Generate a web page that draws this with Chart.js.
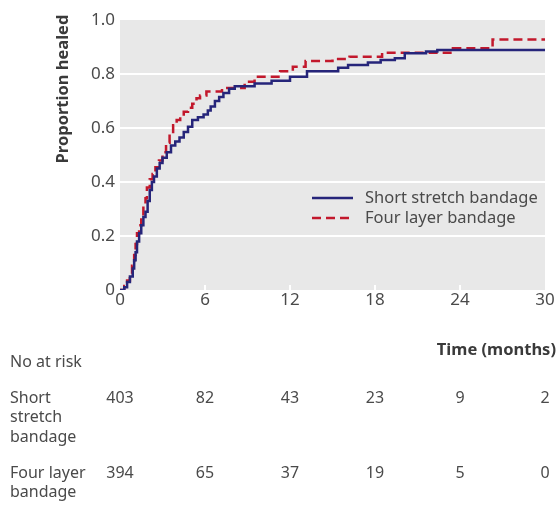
<!DOCTYPE html>
<html>
<head>
<meta charset="utf-8" />
<title>Proportion healed</title>
<script src="https://cdn.jsdelivr.net/npm/chart.js@4/dist/chart.umd.min.js"></script>
<style>
  html, body { margin: 0; padding: 0; background: #fff; }
  #wrap { width: 556px; height: 517px; }
</style>
</head>
<body>
<div id="wrap"><canvas id="km"></canvas></div>
<script>
// time (months) and proportion healed
const shortTimes = [0, 0.3, 0.5, 0.7, 0.9, 1.0, 1.1, 1.2, 1.35, 1.5, 1.65, 1.8, 1.95, 2.1, 2.25, 2.4, 2.6, 2.8, 3.0, 3.3, 3.6, 3.9, 4.2, 4.5, 4.8, 5.1, 5.5, 5.9, 6.2, 6.4, 6.7, 7.0, 7.3, 7.7, 8.1, 9.5, 10.7, 12.0, 13.2, 15.4, 16.1, 17.5, 18.4, 19.4, 20.1, 21.6, 22.4, 30];
const shortHealed = [0, 0.01, 0.03, 0.05, 0.08, 0.11, 0.14, 0.18, 0.21, 0.24, 0.27, 0.29, 0.33, 0.37, 0.40, 0.42, 0.45, 0.47, 0.49, 0.51, 0.535, 0.55, 0.565, 0.585, 0.605, 0.63, 0.64, 0.65, 0.665, 0.68, 0.70, 0.715, 0.73, 0.745, 0.755, 0.765, 0.775, 0.79, 0.81, 0.823, 0.833, 0.843, 0.852, 0.858, 0.877, 0.883, 0.889, 0.889];

const fourTimes = [0, 0.3, 0.5, 0.7, 0.85, 1.0, 1.1, 1.2, 1.35, 1.5, 1.65, 1.8, 1.9, 2.1, 2.3, 2.5, 2.75, 3.0, 3.25, 3.5, 3.75, 4.0, 4.25, 4.5, 4.8, 5.1, 5.4, 5.65, 6.1, 7.2, 8.8, 9.5, 11.3, 12.2, 13.1, 15.0, 16.2, 18.5, 23.5, 26.3, 30];
const fourHealed = [0, 0.015, 0.035, 0.06, 0.09, 0.13, 0.17, 0.21, 0.24, 0.27, 0.31, 0.34, 0.38, 0.41, 0.43, 0.455, 0.48, 0.51, 0.545, 0.58, 0.61, 0.63, 0.645, 0.66, 0.675, 0.69, 0.71, 0.72, 0.735, 0.748, 0.771, 0.79, 0.81, 0.827, 0.848, 0.856, 0.864, 0.879, 0.895, 0.928, 0.928];

const timeTicks = [0, 6, 12, 18, 24, 30];
const atRiskShort = [403, 82, 43, 23, 9, 2];
const atRiskFour = [394, 65, 37, 19, 5, 0];

const seriesNames = ['Short stretch bandage', 'Four layer bandage'];
const riskLabels = [['Short', 'stretch', 'bandage'], ['Four layer', 'bandage']];

const blue = '#26257a';
const red = '#c2182c';
const textCol = '#4a4a4a';
const fontFam = '"Noto Sans", "Open Sans", sans-serif';

function toPoints(xs, ys) {
  return xs.map((x, i) => ({ x: x, y: ys[i] }));
}

// gray panel + inside ticks + extra text (legend, axis title, risk table)
const extras = {
  id: 'extras',
  beforeDraw(chart) {
    const a = chart.chartArea, ctx = chart.ctx;
    ctx.save();
    ctx.fillStyle = '#e8e8e8';
    ctx.fillRect(a.left, a.top, a.right - a.left, a.bottom - a.top);
    ctx.restore();
  },
  afterDraw(chart) {
    const a = chart.chartArea, ctx = chart.ctx;
    const xs = chart.scales.x;
    ctx.save();

    // small white ticks at bottom of panel
    ctx.strokeStyle = '#ffffff';
    ctx.lineWidth = 2;
    timeTicks.slice(1, -1).forEach(t => {
      const px = Math.round(xs.getPixelForValue(t));
      ctx.beginPath();
      ctx.moveTo(px, a.bottom);
      ctx.lineTo(px, a.bottom - 5);
      ctx.stroke();
    });

    // y axis title
    ctx.fillStyle = '#3a3a3a';
    ctx.font = 'bold 16.5px ' + fontFam;
    ctx.textAlign = 'center';
    ctx.textBaseline = 'middle';
    ctx.save();
    ctx.translate(63, 89);
    ctx.rotate(-Math.PI / 2);
    ctx.fillText('Proportion healed', 0, 0);
    ctx.restore();

    // legend
    ctx.lineWidth = 2.5;
    ctx.strokeStyle = blue;
    ctx.beginPath(); ctx.moveTo(312, 198); ctx.lineTo(353, 198); ctx.stroke();
    ctx.strokeStyle = red;
    ctx.setLineDash([9, 5]);
    ctx.beginPath(); ctx.moveTo(312, 218); ctx.lineTo(353, 218); ctx.stroke();
    ctx.setLineDash([]);
    ctx.fillStyle = textCol;
    ctx.font = '16.5px ' + fontFam;
    ctx.textAlign = 'left';
    ctx.fillText(seriesNames[0], 365, 198);
    ctx.fillText(seriesNames[1], 365, 218);

    // time title
    ctx.fillStyle = '#3a3a3a';
    ctx.font = 'bold 16.5px ' + fontFam;
    ctx.textAlign = 'right';
    ctx.fillText('Time (months)', 556, 350);

    // number at risk
    ctx.fillStyle = textCol;
    ctx.font = '16px ' + fontFam;
    ctx.textAlign = 'left';
    ctx.fillText('No at risk', 10, 362);
    riskLabels[0].forEach((s, i) => ctx.fillText(s, 10, 398 + i * 19.5));
    riskLabels[1].forEach((s, i) => ctx.fillText(s, 10, 473 + i * 19.5));
    ctx.textAlign = 'center';
    timeTicks.forEach((t, i) => {
      const px = xs.getPixelForValue(t);
      ctx.fillText(String(atRiskShort[i]), px, 398);
      ctx.fillText(String(atRiskFour[i]), px, 473);
    });
    ctx.restore();
  }
};

new Chart(document.getElementById('km'), {
  type: 'line',
  data: {
    datasets: [{
      label: seriesNames[0],
      data: toPoints(shortTimes, shortHealed),
      borderColor: blue,
      borderWidth: 2.5,
      stepped: true,
      pointRadius: 0,
      fill: false
    }, {
      label: seriesNames[1],
      data: toPoints(fourTimes, fourHealed),
      borderColor: red,
      borderWidth: 2.5,
      borderDash: [9, 5],
      stepped: true,
      pointRadius: 0,
      fill: false
    }]
  },
  options: {
    responsive: true,
    maintainAspectRatio: false,
    animation: false,
    layout: { padding: { left: 0, right: 11, top: 20, bottom: 0 } },
    plugins: { legend: { display: false }, tooltip: { enabled: false } },
    scales: {
      x: {
        type: 'linear',
        min: 0, max: 30,
        afterFit(scale) { scale.height = 227; },
        afterBuildTicks(scale) { scale.ticks = timeTicks.map(v => ({ value: v })); },
        grid: { display: false, drawTicks: false },
        border: { display: false },
        ticks: { color: textCol, padding: 0, font: { family: fontFam, size: 17 }, maxRotation: 0 }
      },
      y: {
        min: 0, max: 1,
        afterFit(scale) { scale.width = 120; },
        grid: {
          drawTicks: false,
          lineWidth: 2,
          color: c => (c.tick.value > 0 && c.tick.value < 1) ? '#ffffff' : 'rgba(0,0,0,0)'
        },
        border: { display: false },
        ticks: {
          stepSize: 0.2,
          color: textCol,
          padding: 5,
          font: { family: fontFam, size: 17 },
          callback: v => v === 0 ? '0' : v.toFixed(1)
        }
      }
    }
  },
  plugins: [extras]
});
</script>
</body>
</html>
